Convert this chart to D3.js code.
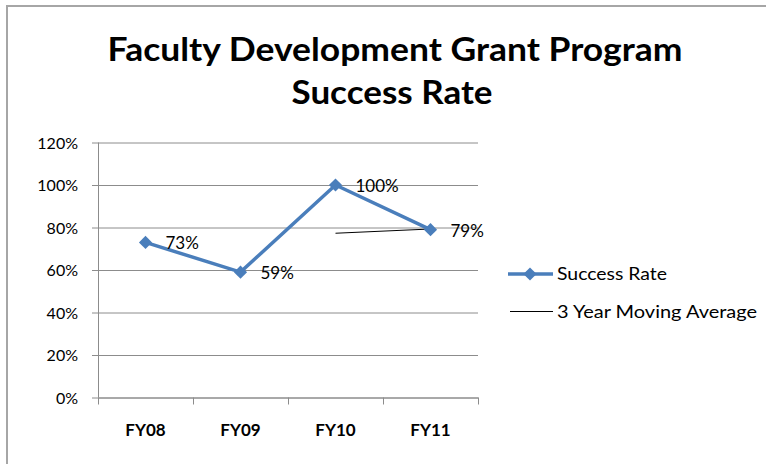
<!DOCTYPE html>
<html>
<head>
<meta charset="utf-8">
<script src="https://cdn.jsdelivr.net/npm/d3@7"></script>
<style>
  body { margin: 0; background: #fff; }
  svg { display: block; }
</style>
</head>
<body>
<svg width="766" height="464"></svg>
<script>
let years = ['FY08', 'FY09', 'FY10', 'FY11']
let successRate = [0.73, 0.59, 1.00, 0.79]
let movingAvg = [null, null, 0.773, 0.793]
let yTicks = [0, 0.2, 0.4, 0.6, 0.8, 1.0, 1.2]

let svg = d3.select('svg')
let sans = "Lato, 'Open Sans', sans-serif"

// outer chart frame (only top and left are on screen)
svg.append('rect')
    .attr('x', 7).attr('y', 6)
    .attr('width', 800).attr('height', 500)
    .attr('fill', 'none')
    .attr('stroke', '#a6a6a6')
    .attr('stroke-width', 2)

let plotLeft = 98, plotRight = 478, plotTop = 142.5, plotBottom = 397.5

let x = d3.scaleBand().domain(years).range([plotLeft, plotRight])
let y = d3.scaleLinear().domain([0, 1.2]).range([plotBottom, plotTop])

// title
svg.append('text')
    .attr('x', 395).attr('y', 61)
    .attr('text-anchor', 'middle')
    .attr('font-family', sans).attr('font-weight', 'bold')
    .attr('font-size', 33)
    .attr('textLength', 575).attr('lengthAdjust', 'spacingAndGlyphs')
    .text('Faculty Development Grant Program')
svg.append('text')
    .attr('x', 392).attr('y', 104)
    .attr('text-anchor', 'middle')
    .attr('font-family', sans).attr('font-weight', 'bold')
    .attr('font-size', 33)
    .attr('textLength', 201).attr('lengthAdjust', 'spacingAndGlyphs')
    .text('Success Rate')

// y axis with gridlines
let yAxis = svg.append('g')
    .attr('transform', `translate(${plotLeft},0)`)
    .call(d3.axisLeft(y).tickValues(yTicks).tickFormat(d3.format('.0%'))
        .tickSize(-(plotRight - plotLeft)).tickPadding(20))
yAxis.select('.domain').remove()
yAxis.selectAll('.tick line')
    .attr('x1', -6)
    .attr('stroke', '#8c8c8c')
yAxis.selectAll('.tick text')
    .attr('font-family', sans).attr('font-size', 16)
    .attr('fill', '#000')
    .attr('dy', '0.35em')

svg.append('line')
    .attr('x1', plotLeft + 0.5).attr('x2', plotLeft + 0.5)
    .attr('y1', plotTop).attr('y2', plotBottom)
    .attr('stroke', '#8c8c8c')

// x axis
let xAxis = svg.append('g')
    .attr('transform', `translate(0,${plotBottom})`)
    .call(d3.axisBottom(x).tickSize(0).tickPadding(26))
xAxis.select('.domain').attr('stroke', '#8c8c8c')
xAxis.selectAll('.tick text')
    .attr('font-family', sans).attr('font-weight', 'bold')
    .attr('font-size', 17).attr('fill', '#000')
xAxis.selectAll('.sep')
    .data(years.concat(['end']))
    .enter()
    .append('line')
    .attr('x1', (d, i) => plotLeft + i * x.bandwidth() + 0.5)
    .attr('x2', (d, i) => plotLeft + i * x.bandwidth() + 0.5)
    .attr('y1', 0).attr('y2', 7)
    .attr('stroke', '#8c8c8c')

let cx = d => x(d) + x.bandwidth() / 2

// moving average line
let maPoints = years.map((d, i) => [d, movingAvg[i]]).filter(p => p[1] !== null)
svg.append('path')
    .datum(maPoints)
    .attr('d', d3.line().x(p => cx(p[0])).y(p => y(p[1])))
    .attr('fill', 'none')
    .attr('stroke', '#000')
    .attr('stroke-width', 1)

// success rate line
let pts = years.map((d, i) => [d, successRate[i]])
svg.append('path')
    .datum(pts)
    .attr('d', d3.line().x(p => cx(p[0])).y(p => y(p[1])))
    .attr('fill', 'none')
    .attr('stroke', '#4a7ebb')
    .attr('stroke-width', 3.5)

let diamond = d3.symbol().type(d3.symbolDiamond2).size(110)
svg.selectAll('.marker')
    .data(pts)
    .enter()
    .append('path')
    .attr('d', diamond)
    .attr('transform', p => `translate(${cx(p[0])},${y(p[1])})`)
    .attr('fill', '#4a7ebb')

svg.selectAll('.label')
    .data(pts)
    .enter()
    .append('text')
    .attr('x', p => cx(p[0]) + 20)
    .attr('y', p => y(p[1]) + 7)
    .attr('font-family', sans).attr('font-size', 17)
    .text(p => d3.format('.0%')(p[1]))

// legend
let legend = svg.append('g')
legend.append('line')
    .attr('x1', 508).attr('x2', 553).attr('y1', 274).attr('y2', 274)
    .attr('stroke', '#4a7ebb').attr('stroke-width', 3.5)
legend.append('path')
    .attr('d', diamond)
    .attr('transform', 'translate(530,274)')
    .attr('fill', '#4a7ebb')
legend.append('text')
    .attr('x', 557).attr('y', 280)
    .attr('font-family', sans).attr('font-size', 17)
    .attr('textLength', 110).attr('lengthAdjust', 'spacingAndGlyphs')
    .text('Success Rate')
legend.append('line')
    .attr('x1', 510).attr('x2', 553).attr('y1', 311.5).attr('y2', 311.5)
    .attr('stroke', '#000').attr('stroke-width', 1)
legend.append('text')
    .attr('x', 557).attr('y', 318)
    .attr('font-family', sans).attr('font-size', 17)
    .attr('textLength', 200).attr('lengthAdjust', 'spacingAndGlyphs')
    .text('3 Year Moving Average')
</script>
</body>
</html>
